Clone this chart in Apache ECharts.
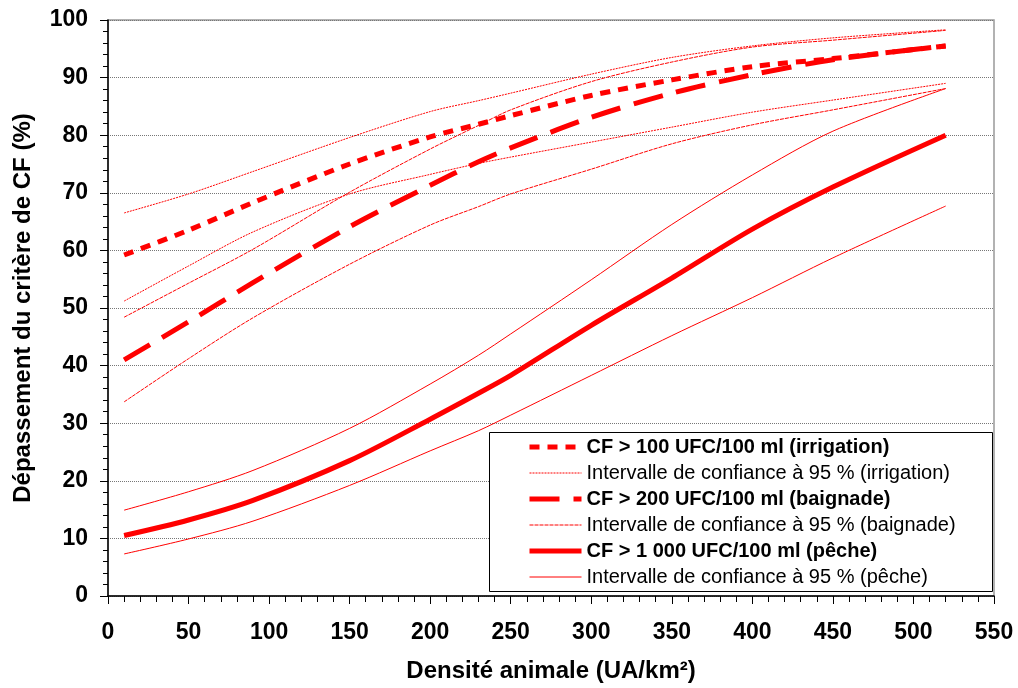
<!DOCTYPE html>
<html>
<head>
<meta charset="utf-8">
<script src="https://cdn.jsdelivr.net/npm/echarts@6/dist/echarts.min.js"></script>
<style>html,body{margin:0;padding:0;background:#fff;}#c{width:1018px;height:688px;}</style>
</head>
<body>
<div id="c"></div>
<script>
// Data
const xValues = [10, 50, 90, 150, 200, 230, 250, 300, 350, 400, 450, 520];
const irrigation     = [59.2, 63.5, 68.3, 75.0, 79.7, 81.9, 83.4, 86.9, 89.6, 91.9, 93.3, 95.5];
const irrigationHigh = [66.5, 69.8, 73.7, 79.6, 84.1, 86.0, 87.3, 90.6, 93.5, 95.5, 96.9, 98.3];
const irrigationLow  = [51.2, 57.3, 63.2, 69.8, 73.2, 75.1, 76.2, 78.8, 81.4, 84.0, 86.1, 89.0];
const baignade       = [41.0, 47.6, 54.4, 64.1, 71.3, 75.4, 77.8, 83.1, 87.3, 90.5, 93.1, 95.5];
const baignadeHigh   = [48.4, 54.3, 60.2, 70.1, 77.6, 81.7, 84.4, 89.3, 92.7, 95.3, 96.5, 98.2];
const baignadeLow    = [33.7, 41.2, 48.3, 57.6, 64.4, 67.6, 69.8, 74.1, 78.5, 81.8, 84.4, 88.1];
const peche          = [10.5, 13.2, 16.6, 23.5, 30.7, 35.2, 38.3, 47.0, 55.2, 63.7, 71.0, 80.0];
const pecheHigh      = [14.9, 18.1, 21.8, 29.1, 36.8, 41.8, 45.5, 54.9, 64.5, 73.1, 80.7, 88.1];
const pecheLow       = [7.3, 9.9, 13.0, 19.2, 25.2, 28.7, 31.4, 38.3, 45.2, 51.8, 58.7, 67.7];

const names = [
  'CF > 100 UFC/100 ml (irrigation)',
  'Intervalle de confiance à 95 % (irrigation)',
  'CF > 200 UFC/100 ml (baignade)',
  'Intervalle de confiance à 95 % (baignade)',
  'CF > 1 000 UFC/100 ml (pêche)',
  'Intervalle de confiance à 95 % (pêche)'
];
const xTitle = 'Densité animale (UA/km²)';
const yTitle = 'Dépassement du critère de CF (%)';

const FONT = 'Liberation Sans, Arial, sans-serif';
const RED = '#ff0000';
function pts(arr) { return xValues.map((x, i) => [x, arr[i]]); }
function mk(name, arr, width, type, z) {
  return {
    name: name, type: 'line', data: pts(arr), symbol: 'none', showSymbol: false,
    smooth: 0.3, z: z,
    lineStyle: { color: RED, width: width, type: type },
    itemStyle: { color: RED }
  };
}

const chart = echarts.init(document.getElementById('c'), null, { renderer: 'canvas' });
chart.setOption({
  animation: false,
  backgroundColor: '#fff',
  grid: { left: 108, top: 20, right: 24, bottom: 92, show: true, borderColor: '#999', borderWidth: 1.5 },
  xAxis: {
    type: 'value', min: 0, max: 550, interval: 50,
    axisLine: { lineStyle: { color: '#000', width: 1.5 } },
    axisTick: { length: 8, lineStyle: { color: '#000', width: 1 } },
    minorTick: { show: true, splitNumber: 5, length: 6, lineStyle: { color: '#000', width: 1 } },
    splitLine: { show: false },
    axisLabel: { fontFamily: FONT, fontWeight: 'bold', fontSize: 23, color: '#000', margin: 25 },
    name: xTitle, nameLocation: 'middle', nameGap: 63,
    nameTextStyle: { fontFamily: FONT, fontWeight: 'bold', fontSize: 24, color: '#000' }
  },
  yAxis: {
    type: 'value', min: 0, max: 100, interval: 10,
    axisLine: { show: true, lineStyle: { color: '#000', width: 1.5 } },
    axisTick: { show: true, length: 8, lineStyle: { color: '#000', width: 1 } },
    minorTick: { show: true, splitNumber: 5, length: 5, lineStyle: { color: '#000', width: 1 } },
    splitLine: { show: true, lineStyle: { color: '#777', type: 'dotted', width: 1 } },
    axisLabel: { fontFamily: FONT, fontWeight: 'bold', fontSize: 23, color: '#000', margin: 20 },
    name: yTitle, nameLocation: 'middle', nameGap: 73, nameRotate: 90,
    nameTextStyle: { fontFamily: FONT, fontWeight: 'bold', fontSize: 24, color: '#000' }
  },
  graphic: [{
    type: 'rect', left: 489, top: 432, z: 1,
    shape: { width: 503, height: 159 },
    style: { fill: '#fff', stroke: '#000', lineWidth: 1 }
  }],
  legend: {
    orient: 'vertical', left: 527, top: 437, padding: 0,
    itemWidth: 52, itemHeight: 14, itemGap: 6, z: 10,
    itemStyle: { opacity: 0 },
    lineStyle: { width: 'inherit' },
    data: names,
    formatter: function (n) { return n.indexOf('CF') === 0 ? '{b|' + n + '}' : '{n|' + n + '}'; },
    textStyle: {
      fontFamily: FONT, fontSize: 20, color: '#000',
      rich: {
        b: { fontFamily: FONT, fontSize: 20, fontWeight: 'bold', color: '#000' },
        n: { fontFamily: FONT, fontSize: 20, color: '#000' }
      }
    }
  },
  series: [
    mk(names[0], irrigation, 5, [10, 8], 5),
    mk(names[1], irrigationHigh, 1, [2, 1], 3),
    mk(names[1], irrigationLow, 1, [2, 1], 3),
    mk(names[2], baignade, 5, [30, 14], 5),
    mk(names[3], baignadeHigh, 1, [4, 1], 3),
    mk(names[3], baignadeLow, 1, [4, 1], 3),
    mk(names[4], peche, 5, 'solid', 5),
    mk(names[5], pecheHigh, 1, 'solid', 3),
    mk(names[5], pecheLow, 1, 'solid', 3)
  ]
});
</script>
</body>
</html>
